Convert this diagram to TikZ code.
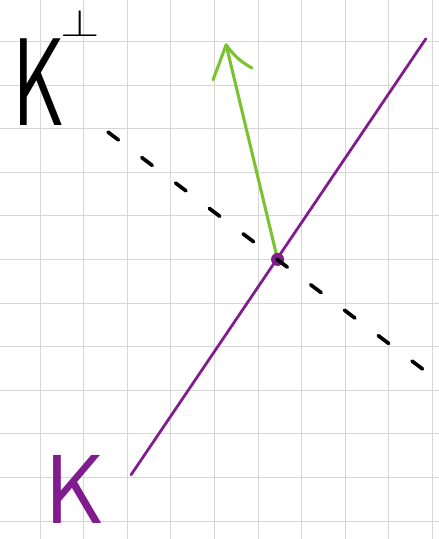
\documentclass[tikz,border=0pt]{standalone}
\usepackage{graphicx}
\definecolor{gridgray}{RGB}{214,214,214}
\definecolor{spanpurple}{RGB}{128,28,142}
\definecolor{vecgreen}{RGB}{122,194,46}
\tikzset{
    handlabel/.style={inner sep=0pt, font=\sffamily\fontsize{80}{80}\selectfont},
    subspace/.style={spanpurple, line width=1.8pt, line cap=round},
    perpline/.style={black, line width=2.4pt, line cap=round, dash pattern=on 0.3cm off 0.67cm},
    normalvec/.style={vecgreen, line width=2pt, line cap=round}
}
\begin{document}
\begin{tikzpicture}
    % Canvas
    \fill[white] (-0.917,-0.413) rectangle (9.15,11.95);
    \clip (-0.917,-0.413) rectangle (9.15,11.95);
    % Grid
    \draw[step=1cm, gridgray, line width=0.6pt] (-1,-1) grid (10,12);
    % Points
    \coordinate (O) at (5.45,6.0);
    \coordinate (kstart) at (2.09,1.06);
    \coordinate (kend) at (8.85,11.06);
    \coordinate (pstart) at (1.56,8.92);
    \coordinate (pend) at (8.81,3.46);
    \coordinate (tip) at (4.27,10.92);
    \coordinate (barbl) at (3.97,10.12);
    \coordinate (barbr) at (4.86,10.39);
    % Subspace K
    \draw[subspace] (kstart) -- (kend);
    % Normal vector
    \draw[normalvec] (O) -- (tip);
    \draw[normalvec] (tip) -- (barbl);
    \draw[normalvec] (tip) to[bend right=12] (barbr);
    % Intersection point
    \fill[spanpurple] (O) circle (0.15);
    % Orthogonal complement (dashed)
    \draw[perpline] (pstart) -- (pend);
    % Labels
    \node[handlabel, anchor=base west] (kperp) at (-0.62,9.08)
        {\scalebox{0.65}[1.02]{K}\hspace{-3pt}\raisebox{58pt}{\fontsize{10}{10}\selectfont\scalebox{3.3}[2.5]{$\perp$}}};
    \node[handlabel, spanpurple, anchor=base west] (klabel) at (0.12,-0.05)
        {\scalebox{0.75}[0.8]{K}};
\end{tikzpicture}
\end{document}
